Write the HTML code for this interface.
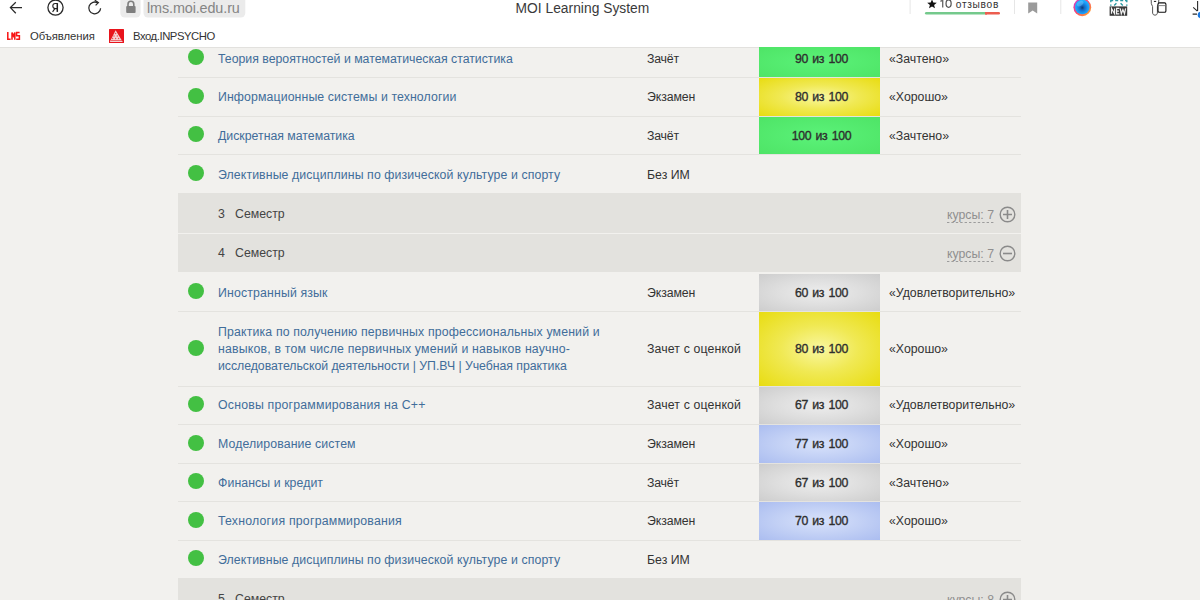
<!DOCTYPE html>
<html><head><meta charset="utf-8">
<style>
html,body{margin:0;padding:0;width:1200px;height:600px;overflow:hidden;background:#f2f1ee;font-family:"Liberation Sans",sans-serif;}
.abs{position:absolute;}
#hdr{position:absolute;left:0;top:0;width:1200px;height:47px;background:#fff;}
.t{position:absolute;white-space:nowrap;font-size:12.3px;line-height:14px;}
.line{position:absolute;left:178px;width:843px;height:1px;background:#e4e3df;}
.cell{position:absolute;left:759px;width:121px;}
.dot{position:absolute;left:188px;width:16px;height:16px;border-radius:50%;background:#43c043;}
.name{color:#416d9a;left:218px;}
.typ{color:#333;left:647px;}
.grd{color:#333;left:889px;}
.score{left:761px;width:121px;text-align:center;font-weight:normal;color:#2e2e2e;-webkit-text-stroke:0.35px #2e2e2e;word-spacing:1.4px;letter-spacing:-0.35px;}
.green{background:radial-gradient(ellipse at center,#5bf279 0%,#4ee466 100%);}
.yellow{background:radial-gradient(ellipse at center,#f9f7a0 0%,#f0e954 45%,#e8dc10 100%);}
.gray{background:radial-gradient(ellipse at center,#ededed 0%,#dedede 50%,#cdcdcd 100%);}
.blue{background:radial-gradient(ellipse at center,#d8e2fb 0%,#c2d0f5 50%,#abbdf0 100%);}
.sem{position:absolute;left:178px;width:843px;background:#e3e2de;}
.semt{color:#444;}
.kurs{position:absolute;color:#8f8f8f;font-size:12.3px;white-space:nowrap;line-height:14px;}
</style></head><body>
<div class="line" style="top:47px"></div>
<div class="cell green" style="top:47px;height:30px;z-index:5"></div>
<div class="t score" style="top:52px;z-index:5">90 из 100</div>
<div class="t grd" style="top:52px">«Зачтено»</div>
<div class="dot" style="top:49.45px"></div>
<div class="t name" style="top:52px">Теория вероятностей и математическая статистика</div>
<div class="t typ" style="top:52px;letter-spacing:-0.2px">Зачёт</div>
<div class="line" style="top:77px"></div>
<div class="cell yellow" style="top:78px;height:38px"></div>
<div class="t score" style="top:90px">80 из 100</div>
<div class="t grd" style="top:90px">«Хорошо»</div>
<div class="dot" style="top:87.95px"></div>
<div class="t name" style="top:90px;letter-spacing:0.111px">Информационные системы и технологии</div>
<div class="t typ" style="top:90px;letter-spacing:-0.1px">Экзамен</div>
<div class="line" style="top:116px"></div>
<div class="cell green" style="top:117px;height:37px"></div>
<div class="t score" style="top:129px">100 из 100</div>
<div class="t grd" style="top:129px">«Зачтено»</div>
<div class="dot" style="top:126.45px"></div>
<div class="t name" style="top:129px">Дискретная математика</div>
<div class="t typ" style="top:129px;letter-spacing:-0.2px">Зачёт</div>
<div class="line" style="top:154px"></div>
<div class="dot" style="top:164.95px"></div>
<div class="t name" style="top:168px;letter-spacing:0.108px">Элективные дисциплины по физической культуре и спорту</div>
<div class="t typ" style="top:168px">Без ИМ</div>
<div class="cell gray" style="top:274px;height:37px"></div>
<div class="t score" style="top:286px">60 из 100</div>
<div class="t grd" style="top:286px">«Удовлетворительно»</div>
<div class="dot" style="top:282.95px"></div>
<div class="t name" style="top:286px;letter-spacing:0.156px">Иностранный язык</div>
<div class="t typ" style="top:286px;letter-spacing:-0.1px">Экзамен</div>
<div class="line" style="top:311px"></div>
<div class="cell yellow" style="top:312px;height:74px"></div>
<div class="t score" style="top:342px">80 из 100</div>
<div class="t grd" style="top:342px">«Хорошо»</div>
<div class="dot" style="top:339.70px"></div>
<div class="t name" style="top:325px;letter-spacing:0.161px">Практика по получению первичных профессиональных умений и</div>
<div class="t name" style="top:342px;letter-spacing:0.187px">навыков, в том числе первичных умений и навыков научно-</div>
<div class="t name" style="top:359px;letter-spacing:-0.040px">исследовательской деятельности | УП.ВЧ | Учебная практика</div>
<div class="t typ" style="top:342px;letter-spacing:0.13px">Зачет с оценкой</div>
<div class="line" style="top:386px"></div>
<div class="cell gray" style="top:387px;height:37px"></div>
<div class="t score" style="top:398px">67 из 100</div>
<div class="t grd" style="top:398px">«Удовлетворительно»</div>
<div class="dot" style="top:396.45px"></div>
<div class="t name" style="top:398px;letter-spacing:0.210px">Основы программирования на С++</div>
<div class="t typ" style="top:398px;letter-spacing:0.13px">Зачет с оценкой</div>
<div class="line" style="top:424px"></div>
<div class="cell blue" style="top:425px;height:38px"></div>
<div class="t score" style="top:437px">77 из 100</div>
<div class="t grd" style="top:437px">«Хорошо»</div>
<div class="dot" style="top:434.95px"></div>
<div class="t name" style="top:437px;letter-spacing:0.115px">Моделирование систем</div>
<div class="t typ" style="top:437px;letter-spacing:-0.1px">Экзамен</div>
<div class="line" style="top:463px"></div>
<div class="cell gray" style="top:464px;height:37px"></div>
<div class="t score" style="top:476px">67 из 100</div>
<div class="t grd" style="top:476px">«Зачтено»</div>
<div class="dot" style="top:473.45px"></div>
<div class="t name" style="top:476px;letter-spacing:0.081px">Финансы и кредит</div>
<div class="t typ" style="top:476px;letter-spacing:-0.2px">Зачёт</div>
<div class="line" style="top:501px"></div>
<div class="cell blue" style="top:502px;height:38px"></div>
<div class="t score" style="top:514px">70 из 100</div>
<div class="t grd" style="top:514px">«Хорошо»</div>
<div class="dot" style="top:511.95px"></div>
<div class="t name" style="top:514px;letter-spacing:0.222px">Технология программирования</div>
<div class="t typ" style="top:514px;letter-spacing:-0.1px">Экзамен</div>
<div class="line" style="top:540px"></div>
<div class="dot" style="top:550.45px"></div>
<div class="t name" style="top:553px;letter-spacing:0.108px">Элективные дисциплины по физической культуре и спорту</div>
<div class="t typ" style="top:553px">Без ИМ</div>
<div class="sem" style="top:193px;height:40px"></div>
<div class="t semt" style="left:218px;top:207px">3</div>
<div class="t semt" style="left:235px;top:207px">Семестр</div>
<div class="kurs" style="left:947px;top:208px">курсы: 7</div>
<svg class="abs" style="left:947px;top:222px" width="49" height="1" viewBox="0 0 49 1"><path d="M0 0.5H48" stroke="#9c9c9c" stroke-width="1" stroke-dasharray="2.4 2"/></svg>
<svg class="abs" style="left:999px;top:206px" width="17" height="17" viewBox="0 0 17 17"><circle cx="8.5" cy="8.5" r="7.3" fill="none" stroke="#8a8a8a" stroke-width="1.4"/><path d="M4 8.5h9M8.5 4v9" stroke="#8a8a8a" stroke-width="1.6"/></svg>
<div class="sem" style="top:234px;height:38px"></div>
<div class="t semt" style="left:218px;top:246px">4</div>
<div class="t semt" style="left:235px;top:246px">Семестр</div>
<div class="kurs" style="left:947px;top:247px">курсы: 7</div>
<svg class="abs" style="left:947px;top:261px" width="49" height="1" viewBox="0 0 49 1"><path d="M0 0.5H48" stroke="#9c9c9c" stroke-width="1" stroke-dasharray="2.4 2"/></svg>
<svg class="abs" style="left:999px;top:245px" width="17" height="17" viewBox="0 0 17 17"><circle cx="8.5" cy="8.5" r="7.3" fill="none" stroke="#8a8a8a" stroke-width="1.4"/><path d="M4 8.5h9" stroke="#8a8a8a" stroke-width="1.6"/></svg>
<div class="sem" style="top:578px;height:40px"></div>
<div class="t semt" style="left:218px;top:592px">5</div>
<div class="t semt" style="left:235px;top:592px">Семестр</div>
<div class="kurs" style="left:947px;top:593px">курсы: 8</div>
<svg class="abs" style="left:947px;top:607px" width="49" height="1" viewBox="0 0 49 1"><path d="M0 0.5H48" stroke="#9c9c9c" stroke-width="1" stroke-dasharray="2.4 2"/></svg>
<svg class="abs" style="left:999px;top:591px" width="17" height="17" viewBox="0 0 17 17"><circle cx="8.5" cy="8.5" r="7.3" fill="none" stroke="#8a8a8a" stroke-width="1.4"/><path d="M4 8.5h9M8.5 4v9" stroke="#8a8a8a" stroke-width="1.6"/></svg>
<div id="hdr">
<div class="abs" style="left:0;top:47px;width:1200px;height:1px;background:#e2e1de"></div>
<svg class="abs" style="left:0;top:0" width="1200" height="47" viewBox="0 0 1200 47">
 <!-- back arrow -->
 <path d="M15.8 2.2L10.4 7.6L15.8 13.2M10.6 7.6H22" fill="none" stroke="#2a2a2a" stroke-width="1.25"/>
 <!-- yandex circle -->
 <circle cx="55.5" cy="7.6" r="7.6" fill="none" stroke="#2a2a2a" stroke-width="1.3"/>
 <!-- refresh -->
 <path d="M100.6 8.2A5.9 5.9 0 1 1 97.8 2.9" fill="none" stroke="#2a2a2a" stroke-width="1.25"/>
 <path d="M94.8 0.2L98.4 2.6L95.6 5.4" fill="none" stroke="#2a2a2a" stroke-width="1.25"/>
 <!-- lock box + address pill -->
 <rect x="120.3" y="-6" width="20.3" height="23.6" rx="4.5" fill="#ebebeb"/>
 <rect x="143.5" y="-6" width="101.8" height="23.6" rx="4.5" fill="#ebebeb"/>
 <rect x="126.2" y="6" width="9.4" height="7" rx="1" fill="#7e7e7e"/>
 <path d="M128 6.5V4.2A2.9 2.9 0 0 1 133.8 4.2V6.5" fill="none" stroke="#7e7e7e" stroke-width="1.6"/>
 <!-- dividers -->
 <rect x="909.6" y="0" width="1" height="14" fill="#e6e6e6"/>
 <rect x="1014" y="0" width="1" height="14" fill="#e6e6e6"/>
 <rect x="1060.3" y="0" width="1" height="14" fill="#e6e6e6"/>
 <!-- rating bar -->
 <rect x="925" y="12" width="61" height="2.6" rx="1.3" fill="#74c98c"/>
 <rect x="985" y="12" width="15" height="2.6" rx="1.3" fill="#ec5d4f"/>
 <rect x="985" y="12" width="2" height="2.6" fill="#ec5d4f"/>
 <!-- bookmark -->
 <path d="M1028.2 2.6H1037.2V13.6L1032.7 10.4L1028.2 13.6Z" fill="#9b9b9b"/>
 <!-- alice -->
 <defs>
  <linearGradient id="ag" x1="0" y1="0" x2="1" y2="1">
   <stop offset="0" stop-color="#c83ad8"/><stop offset="0.45" stop-color="#f2467a"/><stop offset="0.8" stop-color="#ff8a3a"/><stop offset="1" stop-color="#ffe45a"/>
  </linearGradient>
  <radialGradient id="ab" cx="0.5" cy="0.55" r="0.5">
   <stop offset="0" stop-color="#0b3a74"/><stop offset="0.3" stop-color="#1768c0"/><stop offset="0.75" stop-color="#1a9af6"/><stop offset="1" stop-color="#1fb0ff"/>
  </radialGradient>
 </defs>
 <circle cx="1082.3" cy="7.3" r="8.9" fill="url(#ag)"/>
 <circle cx="1082.3" cy="7.0" r="7.3" fill="url(#ab)"/>
 <ellipse cx="1080.2" cy="3.6" rx="3.6" ry="2.2" fill="#9fdcff" opacity="0.35" transform="rotate(-30 1080.2 3.6)"/>
 <!-- NEW icon -->
 <path d="M1110.8 0.6H1113.2M1115.2 0.6H1118.2M1120.2 0.6H1123.2M1125 0.6H1126.8M1110.8 0V2.2M1126.8 0V2.2M1110.8 4.4V5.8M1126.8 4.4V5.8M1114.2 5.4L1116.4 3.2M1120.6 3.2L1122.8 5.4" fill="none" stroke="#2a9aa4" stroke-width="1.4"/>
 <rect x="1109.6" y="6.4" width="17.6" height="9.4" fill="#3a3a3a"/>
 <path d="M1111.5 13.8V8.4L1114.6 13.8V8.4M1119.3 8.4H1116.6V13.8H1119.3M1116.6 11.1H1118.9M1120.2 8.4L1121.3 13.8L1122.9 9.6L1124.5 13.8L1125.6 8.4" fill="none" stroke="#f2f2f2" stroke-width="1.2" stroke-linejoin="miter"/>
 <!-- sidebar icon -->
 <path d="M1151.2 0Q1150.8 4.2 1152.6 6.6V13.2Q1153 15.2 1155 15.2Q1157 15.2 1157.4 13.2V6.6Q1159 4.2 1158.8 0" fill="#fff" stroke="#555" stroke-width="1"/>
 <path d="M1153.9 1.4H1156.2" stroke="#111" stroke-width="1"/>
 <rect x="1158" y="2.9" width="7.9" height="9.4" rx="1.3" fill="#fff" stroke="#111" stroke-width="1.1"/>
 <path d="M1158.4 5.6H1165.4" stroke="#777" stroke-width="0.9"/>
 <!-- download -->
 <path d="M1197.6 1V11M1193.2 7.4L1197.4 11.2M1192.6 14.1H1197" fill="none" stroke="#2a2a2a" stroke-width="1.1"/>
 <circle cx="1201" cy="15" r="3.4" fill="#1a78e0"/>
 <!-- "10" -->
 <path d="M942.7 -0.5V7.4M942.6 0.2L940.4 1.4" fill="none" stroke="#6a6a6a" stroke-width="1.35"/>
 <ellipse cx="948.6" cy="3.5" rx="2.55" ry="3.75" fill="none" stroke="#555" stroke-width="1.25"/>
 <!-- star -->
 <path d="M932 -0.6L933.3 2.6L936.8 2.8L934.1 5L935 8.3L932 6.5L929 8.3L929.9 5L927.2 2.8L930.7 2.6Z" fill="#111"/>
 <!-- LMS logo -->
 <path d="M7.8 32V39.3H10.6M12 39.8V32.6L13.4 36L14.8 32.6V39.8M19.6 32.6H16.6V35.8H19.4V39.2H16.2" fill="none" stroke="#f81414" stroke-width="1.5" stroke-linejoin="miter"/>
 <!-- Ya glyph -->
 <path d="M57.3 3.1V11.9" stroke="#222" stroke-width="1.5"/>
 <path d="M57.3 3.5H55.2Q52.8 3.5 52.8 6Q52.8 8.5 55.4 8.6H57.3M55 8.4L52.6 11.9" fill="none" stroke="#222" stroke-width="1.1"/>
 <!-- inpsycho -->
 <rect x="109" y="29" width="15" height="14" rx="0.5" fill="#e8141c"/>
 <path d="M115.6 30.2L122.8 42H109.8Z" fill="#f6d2d3"/>
 <g fill="#e8141c" opacity="0.7">
  <circle cx="115.6" cy="33.5" r="0.7"/><circle cx="114" cy="36" r="0.7"/><circle cx="117.3" cy="36" r="0.7"/>
  <circle cx="112.6" cy="38.5" r="0.7"/><circle cx="115.6" cy="38.5" r="0.7"/><circle cx="118.6" cy="38.5" r="0.7"/>
  <rect x="111" y="40.2" width="11" height="0.8"/>
 </g>
</svg>
<div class="t" style="left:147px;top:-0.8px;font-size:14.4px;line-height:18px;color:#858585;letter-spacing:-0.12px">lms.moi.edu.ru</div>
<div class="t" style="left:515.5px;top:1px;font-size:13.8px;line-height:16px;color:#3a3a3a;letter-spacing:0.02px">MOI Learning System</div>
<div class="t" style="left:955.8px;top:-2.2px;font-size:10.2px;line-height:14px;color:#333;letter-spacing:0.67px">отзывов</div>
<div class="t" style="left:30px;top:29px;font-size:11.3px;line-height:14px;color:#333;letter-spacing:-0.05px">Объявления</div>
<div class="t" style="left:133px;top:29px;font-size:11.3px;line-height:14px;color:#333;letter-spacing:-0.45px">Вход.INPSYCHO</div>
</div>

</body></html>
